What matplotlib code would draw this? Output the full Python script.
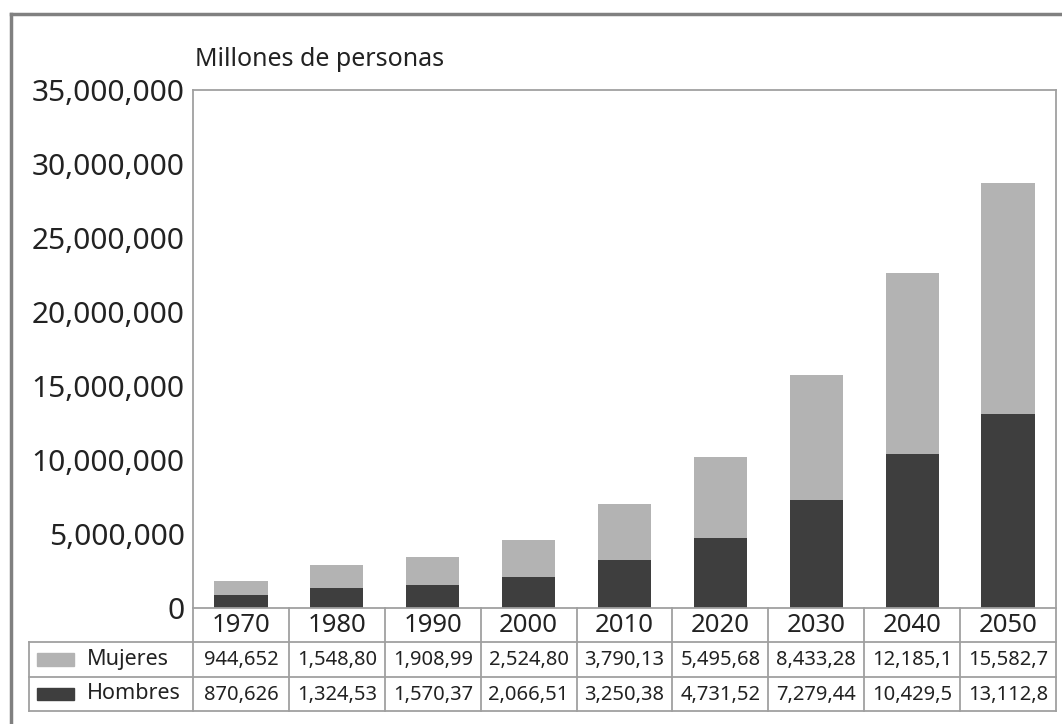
import matplotlib.pyplot as plt
from matplotlib.lines import Line2D
from matplotlib.patches import Rectangle

plt.rcParams['font.family'] = ['Noto Sans', 'DejaVu Sans']

years = ['1970', '1980', '1990', '2000', '2010', '2020', '2030', '2040', '2050']
mujeres = [944652, 1548800, 1908990, 2524800, 3790130, 5495680, 8433280, 12185100, 15582700]
hombres = [870626, 1324530, 1570370, 2066510, 3250380, 4731520, 7279440, 10429500, 13112800]
yticks = [0, 5000000, 10000000, 15000000, 20000000, 25000000, 30000000, 35000000]
series = [('Mujeres', mujeres, '#b3b3b3'), ('Hombres', hombres, '#3e3e3e')]

W, H = 1062, 724
fig = plt.figure(figsize=(W / 100, H / 100), dpi=100)
fig.patch.set_facecolor('white')
txt_c = '#222222'

# outer frame (top + left only, like the scanned page)
frame_c = '#808080'
fig.add_artist(Line2D([11 / W, 11 / W], [0, 1 - 14 / H], color=frame_c, lw=2.5))
fig.add_artist(Line2D([11 / W, 1], [1 - 14 / H, 1 - 14 / H], color=frame_c, lw=2.5))

# main chart
ax_l, ax_r, ax_t, ax_b = 193, 1056, 90, 608
ax = fig.add_axes([ax_l / W, 1 - ax_b / H, (ax_r - ax_l) / W, (ax_b - ax_t) / H])
x = list(range(len(years)))
ax.bar(x, hombres, width=0.555, color='#3e3e3e', zorder=2)
ax.bar(x, mujeres, width=0.555, bottom=hombres, color='#b3b3b3', zorder=2)
ax.set_xlim(-0.5, len(years) - 0.5)
ax.set_ylim(0, 35000000)
ax.set_yticks(yticks, labels=[f'{v:,}' for v in yticks])
ax.set_xticks([])
ax.tick_params(axis='y', length=0, pad=6, labelsize=21.5, labelcolor=txt_c)
for s in ax.spines.values():
    s.set_color('#a0a0a0')
    s.set_linewidth(1.3)
fig.text(195 / W, 1 - 59 / H, 'Millones de personas', fontsize=18, color=txt_c,
         va='center', ha='left')

# data table under the chart
colw = (ax_r - ax_l) / len(years)
tab_l, tab_b = 29, 711
tax = fig.add_axes([tab_l / W, 1 - tab_b / H, (ax_r - tab_l) / W, (tab_b - ax_b) / H])
left = -0.5 - (ax_l - tab_l) / colw
tax.set_xlim(left, len(years) - 0.5)
tax.set_ylim(3, 0)
tax.axis('off')

line_c = '#a0a0a0'
kw = dict(color=line_c, lw=1.3, clip_on=False)
for yy in (1, 2, 3):
    tax.plot([left, len(years) - 0.5], [yy, yy], **kw)
tax.plot([left, left], [1, 3], **kw)
for i in range(len(years) + 1):
    tax.plot([i - 0.5, i - 0.5], [0, 3], **kw)

for i, yr in enumerate(years):
    tax.text(i, 0.52, yr, ha='center', va='center', fontsize=18.5, color=txt_c)

for r, (name, vals, col) in enumerate(series, start=1):
    tax.add_patch(Rectangle((left + 8 / colw, r + 0.32), 37 / colw, 0.36, color=col, clip_on=False))
    tax.text(left + 58 / colw, r + 0.5, name, ha='left', va='center', fontsize=15.5, color=txt_c)
    for i, v in enumerate(vals):
        tax.text(i, r + 0.52, f'{v:,}'[:8], ha='center', va='center', fontsize=14.5, color=txt_c)

fig.savefig('out.png', dpi=100)
